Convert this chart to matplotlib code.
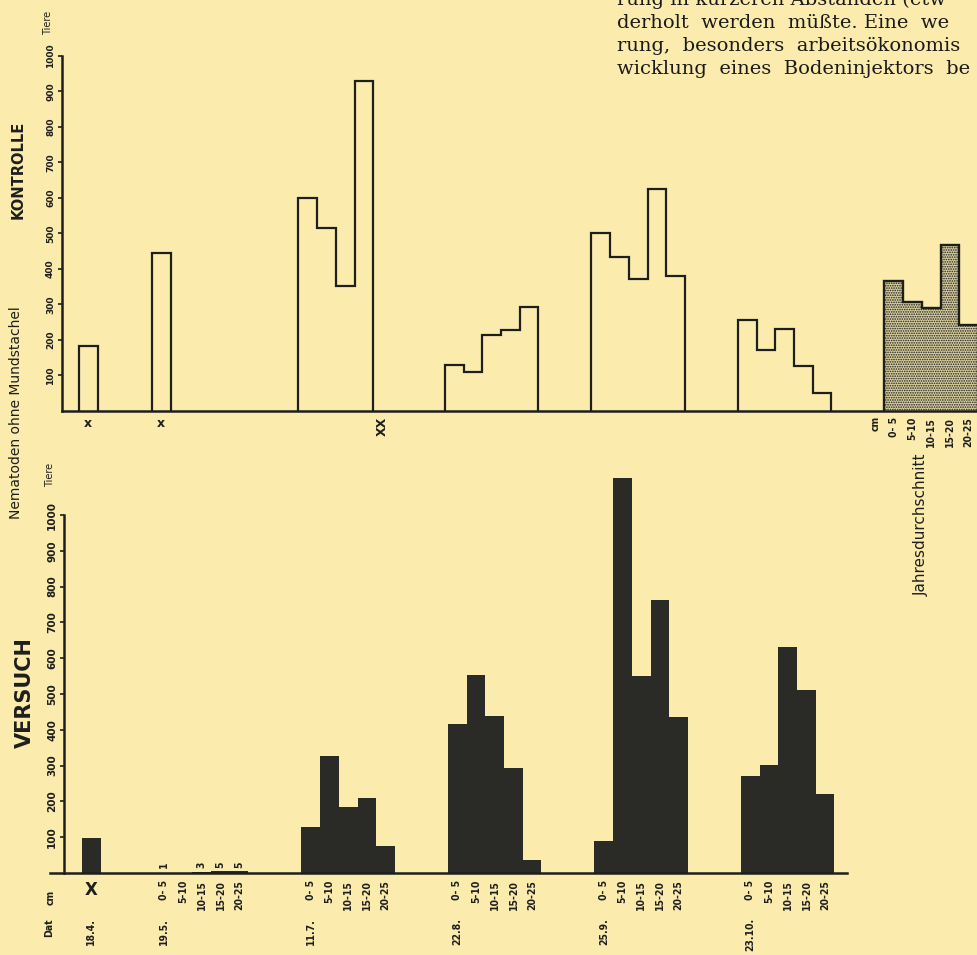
import numpy as np
import matplotlib
matplotlib.use('Agg')
import matplotlib.pyplot as plt

W, H = 978, 955

dates = ['18.4.', '19.5.', '11.7.', '22.8.', '25.9.', '23.10.']
depths = ['0- 5', '5-10', '10-15', '15-20', '20-25']
yticks = [100, 200, 300, 400, 500, 600, 700, 800, 900, 1000]

# KONTROLLE, Tiere je Tiefenstufe (nan = keine Probe)
k_184 = [184]
k_195 = [445]
k_117 = [601, 515, 352, 929, np.nan]
k_228 = [130, 111, 213, 228, 292]
k_259 = [502, 434, 371, 626, 381]
k_2310 = [257, 173, 231, 126, 51]
k_jahr = [367, 308, 289, 469, 241]

# VERSUCH
v_184 = [97]
v_195 = [1, 0, 3, 5, 5]
v_117 = [128, 328, 184, 209, 75]
v_228 = [416, 554, 439, 293, 37]
v_259 = [89, 1103, 549, 763, 436]
v_2310 = [270, 302, 631, 510, 221]

paper = '#FBECAD'
ink = '#1e1e1c'
fill = '#2a2a27'

plt.rcParams['font.family'] = ['DejaVu Sans']
plt.rcParams['hatch.color'] = '#3a3a36'
plt.rcParams['hatch.linewidth'] = 0.8

fig = plt.figure(figsize=(W / 100, H / 100), dpi=100, facecolor=paper)

def fpos(left, top, width, height):
    return [left / W, 1 - (top + height) / H, width / W, height / H]

def ftext(x, y, s, **kw):
    fig.text(x / W, 1 - y / H, s, **kw)

bw = 18.7
first = 92
step = 146.5
def left_of(k):
    return first + step * k

lab = dict(fontsize=7.5, fontweight='bold', fontstretch='condensed', rotation=90, color=ink)

# ---------------- KONTROLLE ----------------
ax1 = fig.add_axes(fpos(62, 56, 916, 355))
ax1.set_facecolor('none')
ax1.set_xlim(2, 918)
ax1.set_ylim(0, 1000)
for s in ['top', 'right']:
    ax1.spines[s].set_visible(False)
ax1.spines['left'].set_bounds(0, 1000)
for s in ['left', 'bottom']:
    ax1.spines[s].set_linewidth(1.8)
    ax1.spines[s].set_color(ink)
ax1.set_xticks([])
ax1.set_yticks(yticks)
ax1.set_yticklabels([str(t) for t in yticks], rotation=90, va='center',
                    fontsize=6.5, fontweight='bold', color=ink)
ax1.tick_params(axis='y', direction='out', length=3, width=1.2, pad=2, color=ink)

groups_k = [k_195, k_117, k_228, k_259, k_2310]
ax1.stairs(k_184, [19, 19 + bw], baseline=0, fill=False, color=ink, lw=1.6)
for k, vals in enumerate(groups_k):
    v = np.array(vals, dtype=float)
    v = v[~np.isnan(v)]
    edges = left_of(k) + bw * np.arange(len(v) + 1)
    ax1.stairs(v, edges, baseline=0, fill=False, color=ink, lw=1.6)

edges = left_of(5) + bw * np.arange(len(k_jahr) + 1)
ax1.stairs(k_jahr, edges, baseline=0, fill=True, facecolor='#d9cf9f',
           edgecolor=ink, hatch='.......', lw=1.7)

# markers under the Kontrolle bars
for xm in [19 + bw / 2, left_of(0) + bw / 2]:
    ax1.annotate('x', (xm, 0), xytext=(0, -6), textcoords='offset pixels',
                 ha='center', va='top', fontsize=9, fontweight='bold', color=ink,
                 annotation_clip=False)
ax1.annotate('XX', (left_of(1) + 4.5 * bw, 0), xytext=(0, -6), textcoords='offset pixels',
             ha='center', va='top', fontsize=9, fontweight='bold', rotation=90, color=ink,
             annotation_clip=False)
for i, d in enumerate(depths):
    ax1.annotate(d, (left_of(5) + (i + 0.5) * bw, 0), xytext=(0, -6),
                 textcoords='offset pixels', ha='center', va='top',
                 annotation_clip=False, **lab)
ax1.annotate('cm', (left_of(5) - 0.5 * bw, 0), xytext=(0, -5),
             textcoords='offset pixels', ha='center', va='top',
             annotation_clip=False, **lab)

# ---------------- VERSUCH ----------------
ax2 = fig.add_axes(fpos(43, 873 - 1130 * 0.358, 935, 1130 * 0.358))
ax2.set_facecolor('none')
ax2.set_xlim(-20, 915)
ax2.set_ylim(0, 1130)
for s in ['top', 'right']:
    ax2.spines[s].set_visible(False)
ax2.spines['left'].set_position(('data', 1))
ax2.spines['left'].set_bounds(0, 1000)
ax2.spines['bottom'].set_bounds(-13, 784)
for s in ['left', 'bottom']:
    ax2.spines[s].set_linewidth(1.8)
    ax2.spines[s].set_color(ink)
ax2.set_xticks([])
ax2.set_yticks(yticks)
ax2.set_yticklabels([str(t) for t in yticks], rotation=90, va='center',
                    fontsize=7.5, fontweight='bold', color=ink)
ax2.tick_params(axis='y', direction='out', length=3, width=1.2, pad=2, color=ink)

groups_v = [v_195, v_117, v_228, v_259, v_2310]
ax2.bar([19], v_184, width=bw, align='edge', color=fill, linewidth=0)
for k, vals in enumerate(groups_v):
    lefts = left_of(k) + bw * np.arange(len(vals))
    ax2.bar(lefts, vals, width=bw, align='edge', color=fill, linewidth=0)
    for i, d in enumerate(depths):
        ax2.annotate(d, (lefts[i] + bw / 2, 0), xytext=(0, -7),
                     textcoords='offset pixels', ha='center', va='top',
                     annotation_clip=False, **lab)
    ax2.annotate(dates[k + 1], (lefts[0] + bw / 2, 0), xytext=(0, -45),
                 textcoords='offset pixels', ha='center', va='top',
                 annotation_clip=False, **lab)

# the almost empty 19.5. sample: counts written above the axis
for i, v in enumerate(v_195):
    if v > 0:
        ax2.annotate(str(v), (left_of(0) + (i + 0.5) * bw, 0), xytext=(0, 5),
                     textcoords='offset pixels', ha='center', va='bottom',
                     annotation_clip=False, **lab)

ax2.annotate('X', (19 + bw / 2, 0), xytext=(0, -8), textcoords='offset pixels',
             ha='center', va='top', fontsize=12, fontweight='bold', color=ink,
             annotation_clip=False)
ax2.annotate(dates[0], (19 + bw / 2, 0), xytext=(0, -45), textcoords='offset pixels',
             ha='center', va='top', annotation_clip=False, **lab)
ax2.annotate('cm', (-12, 0), xytext=(0, -17), textcoords='offset pixels',
             ha='center', va='top', annotation_clip=False, **lab)
ax2.annotate('Dat', (-14, 0), xytext=(0, -45), textcoords='offset pixels',
             ha='center', va='top', annotation_clip=False, **lab)

# ---------------- labels around the panels ----------------
ftext(18, 170, 'KONTROLLE', rotation=90, ha='center', va='center',
      fontsize=10.5, fontweight='bold', color=ink)
ftext(25, 693, 'VERSUCH', rotation=90, ha='center', va='center',
      fontsize=15, fontweight='bold', color=ink)
ftext(16, 413, 'Nematoden ohne Mundstachel', rotation=90, ha='center', va='center',
      fontsize=10, color=ink)
ftext(48, 23, 'Tiere', rotation=90, ha='center', va='center', fontsize=7, color=ink)
ftext(50, 475, 'Tiere', rotation=90, ha='center', va='center', fontsize=7, color=ink)
ftext(921, 525, 'Jahresdurchschnitt', rotation=90, ha='center', va='center',
      fontsize=11, color=ink)

# running text of the page (justified in the print), cut at the right edge
page_lines = ['rung in kürzeren Abständen (etw',
              'derholt  werden  müßte. Eine  we',
              'rung,  besonders  arbeitsökonomis',
              'wicklung  eines  Bodeninjektors  be']
for i, line in enumerate(page_lines):
    ftext(617, 5 + 23 * i, line, ha='left', va='baseline', fontsize=14,
          family='DejaVu Serif', color='#1a1a1a')

fig.savefig('out.png', dpi=100, facecolor=paper)
